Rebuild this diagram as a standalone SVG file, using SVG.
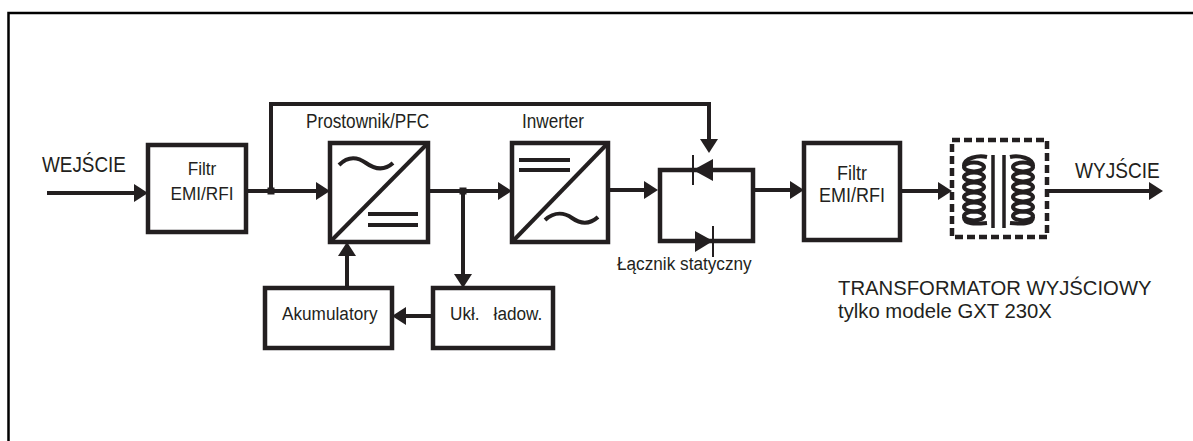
<svg xmlns="http://www.w3.org/2000/svg" width="1193" height="441" viewBox="0 0 1193 441">
<style>
.bx{fill:#fff;stroke:#231f20;stroke-width:4.5}
.ln{fill:none;stroke:#231f20;stroke-width:4;stroke-linejoin:miter}
.thin{fill:none;stroke:#231f20;stroke-width:2}
.t{font-family:"Liberation Sans",Arial,sans-serif;fill:#231f20}
.f17{font-size:17.2px}
.dash{fill:#fff;stroke:#231f20;stroke-width:4.5;stroke-dasharray:8 4}
.coil{fill:none;stroke:#231f20;stroke-width:4}
</style>
<defs>
<marker id="arr" viewBox="0 0 14 18" refX="8" refY="9" markerWidth="14" markerHeight="18" markerUnits="userSpaceOnUse" orient="auto">
<path d="M0,0 L14,9 L0,18 Z" fill="#231f20"/>
</marker>
</defs>
<rect width="1193" height="441" fill="#fff"/>
<path d="M8.5,441 V13 H1193" fill="none" stroke="#000" stroke-width="2.5"/>

<g id="connectors">
<path class="ln" d="M47,193 H142" marker-end="url(#arr)"/>
<path class="ln" d="M246,191 H324" marker-end="url(#arr)"/>
<path class="ln" d="M271,191 V104 H709 V147" marker-end="url(#arr)"/>
<path class="ln" d="M428,191 H506" marker-end="url(#arr)"/>
<path class="ln" d="M463,191 V282" marker-end="url(#arr)"/>
<path class="ln" d="M608,190 H652" marker-end="url(#arr)"/>
<path class="ln" d="M753,190 H798" marker-end="url(#arr)"/>
<path class="ln" d="M900,191 H946" marker-end="url(#arr)"/>
<path class="ln" d="M1047,191 H1157" marker-end="url(#arr)"/>
<path class="ln" d="M433,316 H398" marker-end="url(#arr)"/>
<path class="ln" d="M347,288 V248" marker-end="url(#arr)"/>
<rect x="267.5" y="187.5" width="7" height="7" fill="#231f20"/>
<rect x="459.5" y="187.5" width="7" height="7" fill="#231f20"/>
</g>

<g id="input-label">
<text class="t" font-size="18.9" transform="translate(42,171.7) scale(1,1.16)">WEJŚCIE</text>
</g>

<g id="filter1">
<rect class="bx" x="148" y="145" width="98" height="87"/>
<text class="t f17" text-anchor="middle" transform="translate(202,175) scale(1,1.12)">Filtr</text>
<text class="t f17" text-anchor="middle" transform="translate(202,200) scale(1,1.12)">EMI/RFI</text>
</g>

<g id="rectifier">
<text class="t f17" transform="translate(306,127.7) scale(1,1.15)">Prostownik/PFC</text>
<rect class="bx" x="330" y="143" width="98" height="99"/>
<path class="ln" d="M330,242 L428,143"/>
<path class="ln" d="M339,165 C349,155 359,158 366,163 S383,172 393,163"/>
<path class="ln" d="M368,214 H418 M368,225 H418"/>
</g>

<g id="inverter">
<text class="t f17" transform="translate(522,127.7) scale(1,1.15)">Inwerter</text>
<rect class="bx" x="512" y="143" width="96" height="99"/>
<path class="ln" d="M512,242 L608,143"/>
<path class="ln" d="M519,160 H570 M519,170 H570"/>
<path class="ln" d="M545,220 C555,211 565,213 572,218 S588,226 598,217"/>
</g>

<g id="static-switch">
<rect x="660" y="170" width="93" height="71" fill="none" stroke="#231f20" stroke-width="4.5"/>
<path d="M693,170 L713,159 L713,181 Z" fill="#231f20"/>
<path class="thin" d="M693,155 V185"/>
<path d="M713,241 L695,231 L695,252 Z" fill="#231f20"/>
<path class="thin" d="M713,226 V257"/>
<text class="t f17" transform="translate(617,270) scale(1,1.12)">Łącznik statyczny</text>
</g>

<g id="filter2">
<rect class="bx" x="804" y="143" width="96" height="97"/>
<text class="t" font-size="18" text-anchor="middle" transform="translate(852,180) scale(1,1.12)">Filtr</text>
<text class="t" font-size="18" text-anchor="middle" transform="translate(852,202) scale(1,1.12)">EMI/RFI</text>
</g>

<g id="transformer">
<rect class="dash" x="952" y="140" width="95" height="97"/>
<path d="M993,155 V228 M1004,155 V228" stroke="#231f20" stroke-width="3.5"/>
<g class="coil">
<ellipse cx="974" cy="167" rx="10" ry="4.5"/>
<ellipse cx="974" cy="177" rx="10" ry="4.5"/>
<ellipse cx="974" cy="187" rx="10" ry="4.5"/>
<ellipse cx="974" cy="197" rx="10" ry="4.5"/>
<ellipse cx="974" cy="207" rx="10" ry="4.5"/>
<ellipse cx="974" cy="216" rx="10" ry="4.5"/>
<path d="M964,166 C964,158 978,155 987,157"/>
<path d="M964,217 C964,225 976,224 987,223"/>
<ellipse cx="1023" cy="167" rx="10" ry="4.5"/>
<ellipse cx="1023" cy="177" rx="10" ry="4.5"/>
<ellipse cx="1023" cy="187" rx="10" ry="4.5"/>
<ellipse cx="1023" cy="197" rx="10" ry="4.5"/>
<ellipse cx="1023" cy="207" rx="10" ry="4.5"/>
<ellipse cx="1023" cy="216" rx="10" ry="4.5"/>
<path d="M1033,166 C1033,158 1019,155 1010,157"/>
<path d="M1033,217 C1033,225 1021,224 1010,223"/>
</g>
<text class="t" font-size="20.3" transform="translate(838,294.5) scale(1,1.04)">TRANSFORMATOR WYJŚCIOWY</text>
<text class="t" font-size="20.3" transform="translate(838,318) scale(1,1.04)">tylko modele GXT 230X</text>
</g>

<g id="output-label">
<text class="t" font-size="19.1" transform="translate(1075,178) scale(1,1.12)">WYJŚCIE</text>
</g>

<g id="batteries">
<rect class="bx" x="265" y="288" width="127" height="60"/>
<text class="t f17" transform="translate(282,320) scale(1,1.12)">Akumulatory</text>
</g>

<g id="charger">
<rect class="bx" x="433" y="288" width="120" height="60"/>
<text class="t f17" transform="translate(450,320) scale(1,1.12)">Ukł.<tspan dx="14">ładow.</tspan></text>
</g>
</svg>
